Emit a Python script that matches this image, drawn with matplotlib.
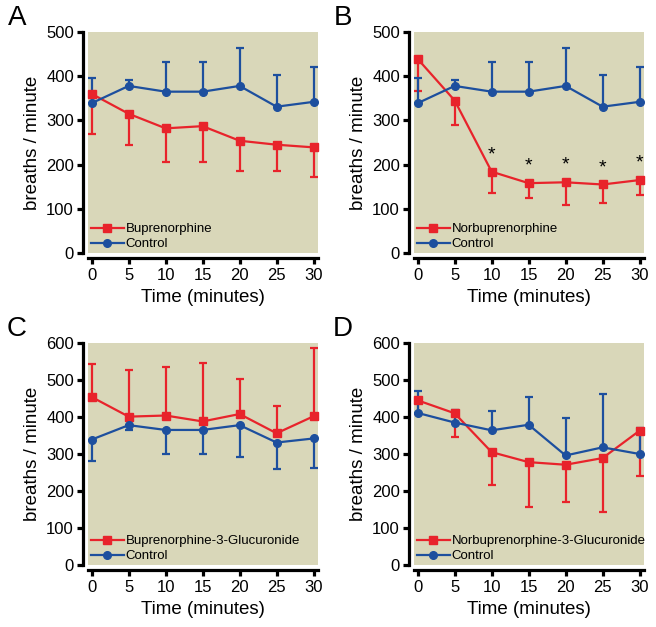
import numpy as np
import matplotlib.pyplot as plt
from matplotlib.lines import Line2D

plt.rcParams['font.family'] = ['Liberation Sans', 'DejaVu Sans']

time = [0, 5, 10, 15, 20, 25, 30]

# control group (same animals in every panel)
control = [339, 378, 365, 365, 378, 331, 342]
control_err_ab = [57, 14, 68, 68, 85, 71, 79]
control_err_c = [57, 14, 66, 66, 86, 71, 79]
control_d = [411, 385, 364, 379, 296, 318, 300]
control_d_err = [60, 33, 51, 74, 100, 145, 71]

bup = [360, 315, 282, 287, 254, 245, 239]
bup_err = [90, 70, 75, 80, 68, 60, 66]

norbup = [439, 345, 184, 158, 160, 155, 165]
norbup_err = [72, 55, 49, 33, 51, 41, 34]
norbup_sig = [10, 15, 20, 25, 30]

b3g = [454, 401, 404, 388, 408, 356, 402]
b3g_err = [90, 125, 131, 158, 94, 74, 184]

nb3g = [445, 410, 305, 278, 271, 289, 363]
nb3g_err = [36, 65, 88, 120, 102, 146, 122]

RED = '#e8232b'
BLUE = '#1d4f9e'
BG = '#d9d7b9'

W, H = 656, 627
fig = plt.figure(figsize=(W / 100, H / 100), dpi=100)


def make_ax(left, top, bottom, ymax):
    ax = fig.add_axes([left / W, 1 - bottom / H, 230 / W, (bottom - top) / H])
    ax.set_facecolor(BG)
    ax.set_xlim(-0.5, 30.6)
    ax.set_ylim(0, ymax)
    ax.set_xticks(time)
    ax.set_yticks(np.arange(0, ymax + 1, 100))
    for s in ['top', 'right']:
        ax.spines[s].set_visible(False)
    for s in ['left', 'bottom']:
        ax.spines[s].set_linewidth(2.3)
        ax.spines[s].set_position(('outward', 3.6))
    ax.tick_params(width=2.3, length=4.5, labelsize=12, pad=2)
    ax.tick_params(axis='x', pad=3)
    ax.set_xlabel('Time (minutes)', fontsize=13.5, labelpad=4)
    ax.set_ylabel('breaths / minute', fontsize=13.5, labelpad=4)
    return ax


def series(ax, y, err, up, color, marker):
    lo = [0] * len(err) if up else err
    hi = err if up else [0] * len(err)
    ax.errorbar(time, y, yerr=[lo, hi], color=color, marker=marker, ms=5.5,
                lw=1.6, elinewidth=1.6, capsize=3, capthick=1.6,
                clip_on=False, zorder=3)


panels = [
    ('A', 88, 32, 253, 500, bup, bup_err, 'Buprenorphine', control, control_err_ab, True),
    ('B', 414, 32, 253, 500, norbup, norbup_err, 'Norbuprenorphine', control, control_err_ab, True),
    ('C', 88, 343, 565, 600, b3g, b3g_err, 'Buprenorphine-3-Glucuronide', control, control_err_c, False),
    ('D', 414, 343, 565, 600, nb3g, nb3g_err, 'Norbuprenorphine-3-Glucuronide', control_d, control_d_err, True),
]

for letter, left, top, bottom, ymax, drug, drug_err, name, ctrl, ctrl_err, ctrl_up in panels:
    ax = make_ax(left, top, bottom, ymax)
    series(ax, drug, drug_err, not ctrl_up, RED, 's')
    series(ax, ctrl, ctrl_err, ctrl_up, BLUE, 'o')
    handles = [Line2D([], [], color=RED, marker='s', ms=5.5, lw=1.6),
               Line2D([], [], color=BLUE, marker='o', ms=5.5, lw=1.6)]
    ax.legend(handles, [name, 'Control'], loc='lower left', frameon=False,
              fontsize=9.5, handlelength=2.5, handletextpad=0.15,
              labelspacing=0.2, borderaxespad=0.0, borderpad=0.2,
              bbox_to_anchor=(0.0, 0.0))
    fig.text((left - 71) / W, 1 - (top - 14) / H, letter, fontsize=20,
             ha='center', va='center')
    if letter == 'B':
        for t in norbup_sig:
            i = time.index(t)
            ax.annotate('*', (t, drug[i]), xytext=(0, 6), textcoords='offset points',
                        ha='center', va='bottom', fontsize=14)

fig.savefig('out.png', dpi=100)
